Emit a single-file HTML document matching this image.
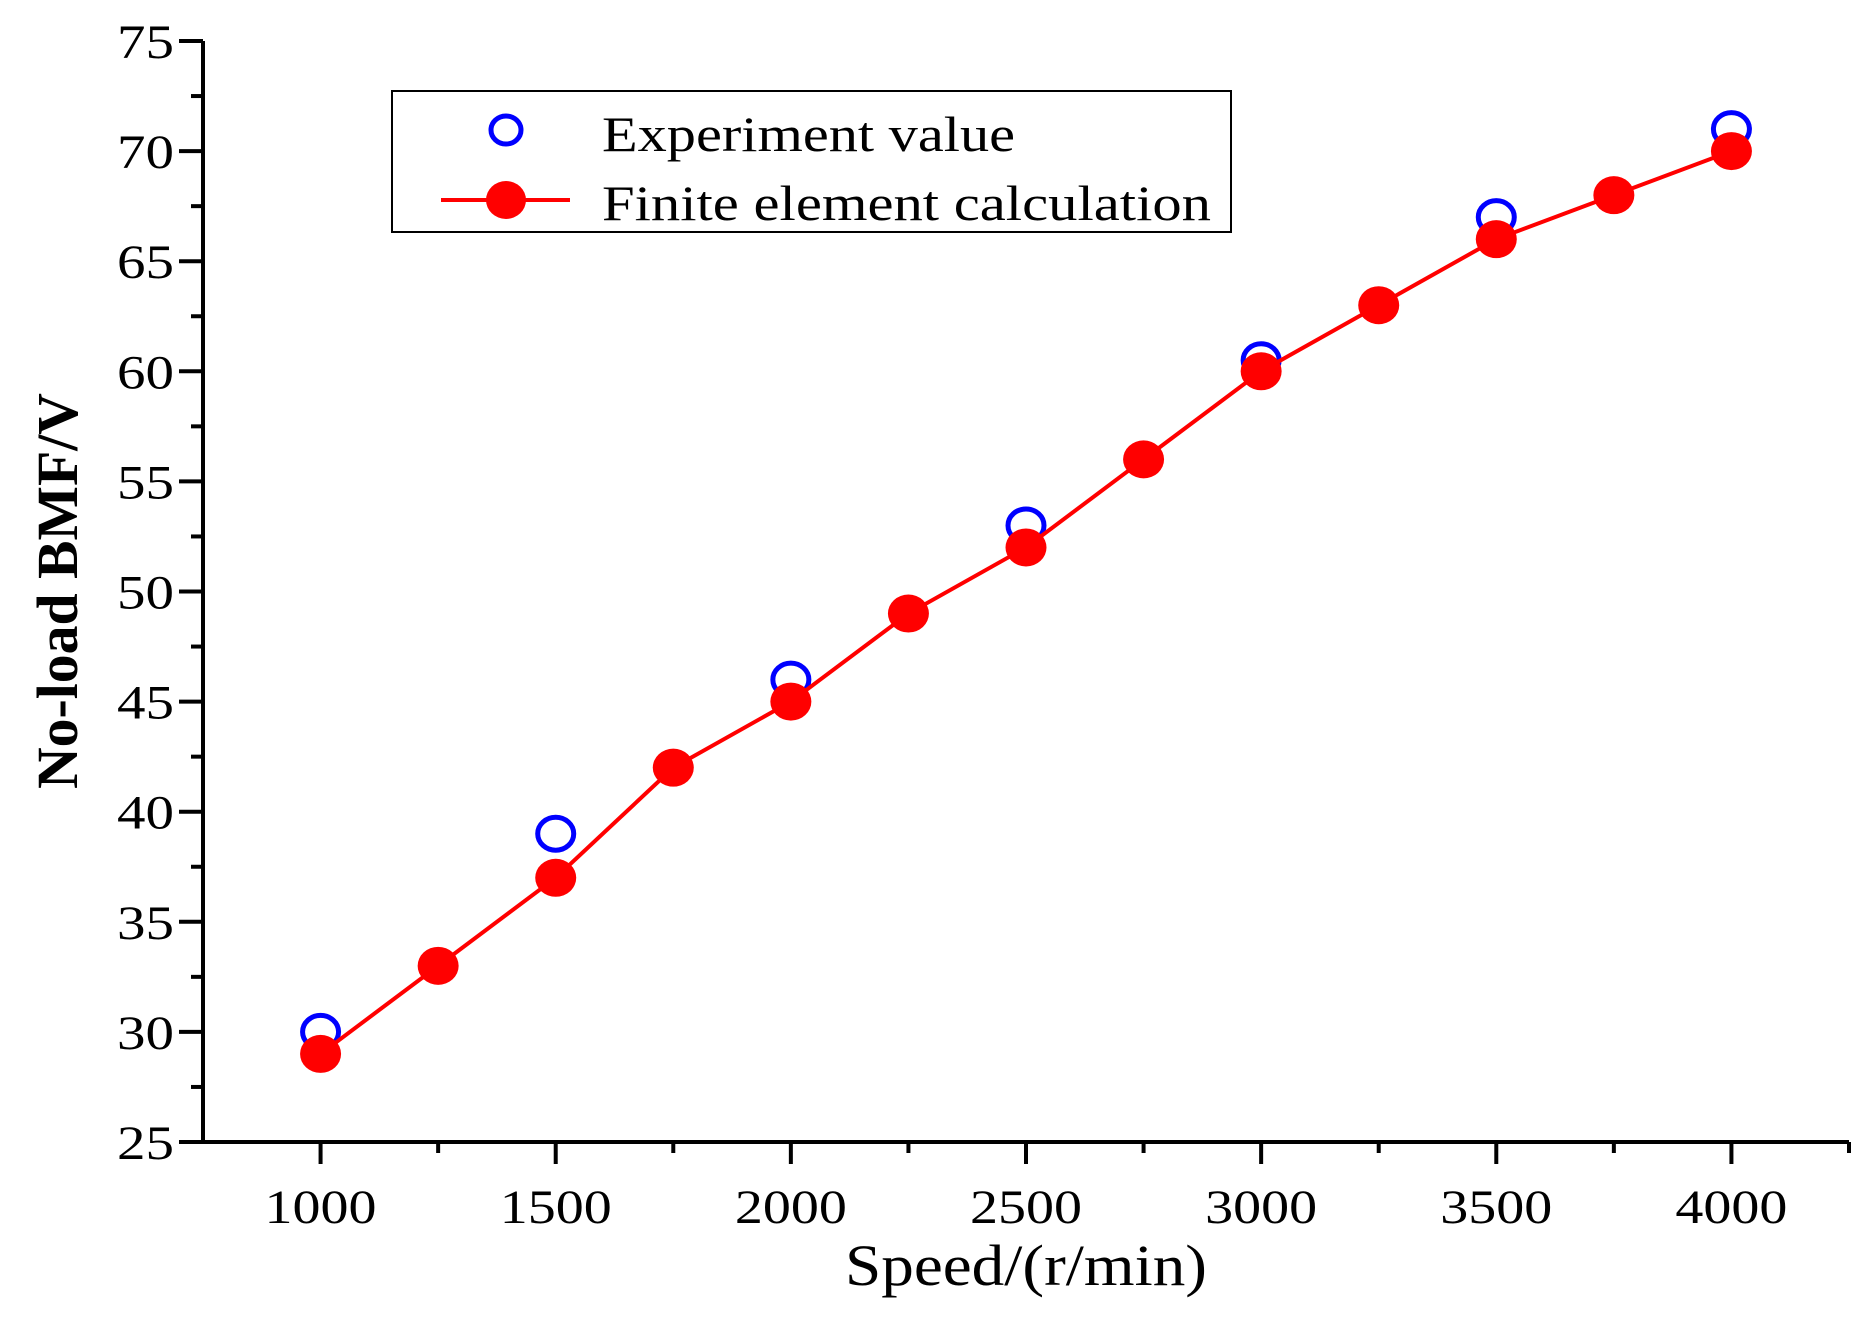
<!DOCTYPE html>
<html><head><meta charset="utf-8"><style>
html,body{margin:0;padding:0;background:#fff;}
svg{display:block;font-family:"Liberation Serif",serif;}
</style></head><body>
<svg id="chart" width="1871" height="1323" viewBox="0 0 1871 1323">
<g id="axes"></g>
<g id="plot"></g>
<g>
  <rect x="392" y="91" width="839" height="141" fill="#fff" stroke="#000" stroke-width="2"/>
  <ellipse cx="506" cy="130" rx="15" ry="14" fill="none" stroke="#0000ff" stroke-width="5"/>
  <text x="602" y="151" font-size="50" textLength="413" lengthAdjust="spacingAndGlyphs">Experiment value</text>
  <line x1="441" y1="200" x2="570" y2="200" stroke="#ff0000" stroke-width="4"/>
  <ellipse cx="506" cy="200" rx="20" ry="19" fill="#ff0000"/>
  <text x="602" y="220" font-size="50" textLength="609" lengthAdjust="spacingAndGlyphs">Finite element calculation</text>
</g>
<text x="1026" y="1285" font-size="58" text-anchor="middle" textLength="362" lengthAdjust="spacingAndGlyphs">Speed/(r/min)</text>
<text transform="translate(77,591) rotate(-90)" font-size="58" font-weight="bold" text-anchor="middle" textLength="396" lengthAdjust="spacingAndGlyphs">No-load BMF/V</text>
</svg>
<script>
const speeds = [1000,1250,1500,1750,2000,2250,2500,2750,3000,3250,3500,3750,4000];
const feValues = [29,33,37,42,45,49,52,56,60,63,66,68,70];
const expSpeeds = [1000,1500,2000,2500,3000,3500,4000];
const expValues = [30,39,46,53,60.5,67,71];
const xTickLabels = ["1000","1500","2000","2500","3000","3500","4000"];
const yTickLabels = ["25","30","35","40","45","50","55","60","65","70","75"];

const NS = "http://www.w3.org/2000/svg";
const X0 = 203, X1 = 1849, Y0 = 1142, Y1 = 41;
const xMin = 750, xMax = 4250, yMin = 25, yMax = 75;
function sx(v){ return X0 + (v - xMin) / (xMax - xMin) * (X1 - X0); }
function sy(v){ return Y0 - (v - yMin) / (yMax - yMin) * (Y0 - Y1); }
function mk(tag, attrs, parent){
  const e = document.createElementNS(NS, tag);
  for (const k in attrs) e.setAttribute(k, attrs[k]);
  parent.appendChild(e);
  return e;
}
const axes = document.getElementById('axes');
const plot = document.getElementById('plot');

let e = mk('line', {x1:X0, y1:Y0, x2:X1, y2:Y0, stroke:'#000', 'stroke-width':4}, axes);


e = mk('line', {x1:X0, y1:Y0+2, x2:X0, y2:Y1, stroke:'#000', 'stroke-width':4}, axes);



for (let v = 1000; v <= 4250; v += 250) {
  const major = (v % 500 === 0);
  e = mk('line', {x1:sx(v), y1:Y0, x2:sx(v), y2:Y0 + (major ? 22 : 11), stroke:'#000', 'stroke-width':4}, axes);
  
  
}
xTickLabels.forEach(function(lab){
  const t = mk('text', {x:sx(+lab), y:1223, 'font-size':48, 'text-anchor':'middle', textLength:112, lengthAdjust:'spacingAndGlyphs'}, axes);
  t.textContent = lab;
  
  
});
for (let v = 25; v <= 75; v += 2.5) {
  const major = (v % 5 === 0);
  e = mk('line', {x1:X0 - (major ? 24 : 12), y1:sy(v), x2:X0, y2:sy(v), stroke:'#000', 'stroke-width':4}, axes);
  
  
}
yTickLabels.forEach(function(lab){
  const t = mk('text', {x:174, y:sy(+lab) + 17, 'font-size':48, 'text-anchor':'end', textLength:57, lengthAdjust:'spacingAndGlyphs'}, axes);
  t.textContent = lab;
  
  
});

expSpeeds.forEach(function(s, i){
  const c = mk('ellipse', {cx:sx(s), cy:sy(expValues[i]), rx:18, ry:16.5, fill:'none', stroke:'#0000ff', 'stroke-width':5}, plot);
  
  
});
const pts = speeds.map(function(s, i){ return sx(s) + ',' + sy(feValues[i]); }).join(' ');
e = mk('polyline', {points:pts, fill:'none', stroke:'#ff0000', 'stroke-width':4}, plot);


speeds.forEach(function(s, i){
  const c = mk('ellipse', {cx:sx(s), cy:sy(feValues[i]), rx:20.5, ry:19, fill:'#ff0000'}, plot);
  
  
});
</script>
</body></html>
